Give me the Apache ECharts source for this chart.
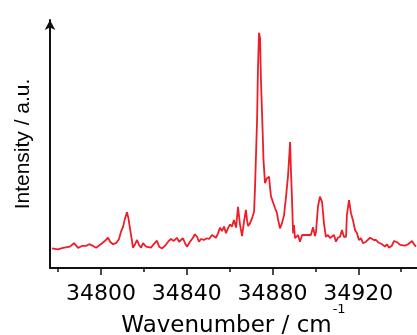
<!DOCTYPE html>
<html>
<head>
<meta charset="utf-8">
<script src="https://cdn.jsdelivr.net/npm/echarts@6/dist/echarts.min.js"></script>
<style>
  html, body { margin: 0; padding: 0; background: #fff; }
  #chart { width: 417px; height: 335px; }
</style>
</head>
<body>
<div id="chart"></div>
<script>
// Spectrum trace (wavenumber in cm-1, intensity in a.u.)
const wavenumber = [
  34777.1, 34779.9, 34782.3, 34785.5, 34787.4, 34789.3, 34791.1, 34793.0, 34794.4, 34796.3,
  34797.7, 34800.5, 34801.9, 34803.3, 34804.2, 34805.6, 34807.0, 34808.4, 34809.3, 34810.3,
  34811.2, 34812.1, 34812.8, 34813.5, 34814.5, 34814.9, 34815.9, 34816.8, 34817.7, 34818.7,
  34819.6, 34821.0, 34821.9, 34823.3, 34824.3, 34825.2, 34826.1, 34827.1, 34828.5, 34829.9,
  34831.3, 34832.6, 34834.0, 34835.4, 34836.4, 34837.3, 34838.2, 34839.2, 34840.1, 34841.5,
  34842.9, 34843.8, 34844.8, 34845.7, 34846.6, 34848.0, 34849.4, 34850.4, 34851.8, 34852.7,
  34853.6, 34854.6, 34855.5, 34856.4, 34857.4, 34858.3, 34859.2, 34860.2, 34861.1, 34862.0,
  34863.0, 34863.9, 34864.8, 34865.8, 34866.7, 34867.6, 34868.1, 34868.6, 34869.5, 34870.4,
  34871.4, 34871.8, 34872.8, 34873.2, 34873.7, 34874.2, 34874.6, 34875.3, 34875.8, 34876.5,
  34877.4, 34878.4, 34878.8, 34879.3, 34880.2, 34881.2, 34882.1, 34882.6, 34883.5, 34884.4,
  34885.4, 34886.3, 34887.2, 34887.7, 34888.2, 34888.6, 34889.1, 34889.6, 34890.0, 34890.5,
  34891.4, 34891.9, 34892.8, 34893.8, 34894.7, 34896.1, 34897.0, 34897.9, 34898.9, 34899.8,
  34900.3, 34901.2, 34902.1, 34903.1, 34904.0, 34904.9, 34905.9, 34906.8, 34907.7, 34908.7,
  34909.6, 34910.5, 34911.5, 34912.4, 34913.3, 34914.3, 34914.7, 34915.7, 34916.6, 34917.5,
  34918.5, 34919.4, 34920.3, 34921.3, 34922.2, 34923.6, 34924.5, 34925.5, 34926.4, 34927.3,
  34928.3, 34929.2, 34930.1, 34931.1, 34932.5, 34933.4, 34934.3, 34935.7, 34936.7, 34938.1,
  34939.5, 34940.4, 34941.8, 34943.2, 34944.1, 34945.1, 34946.0, 34946.9
]
const intensity = [
  7.9, 7.5, 8.1, 8.6, 10.0, 8.1, 8.9, 8.9, 9.6, 8.9,
  8.2, 10.0, 11.0, 12.2, 10.6, 9.6, 10.0, 11.7, 14.6, 16.7,
  20.0, 22.5, 20.0, 16.0, 10.6, 8.2, 9.6, 11.3, 9.3, 8.2,
  10.0, 8.6, 9.3, 8.2, 9.3, 8.6, 11.0, 8.6, 7.9, 9.0,
  10.6, 11.7, 10.9, 12.2, 10.6, 11.0, 12.0, 10.0, 8.6, 10.6,
  12.2, 13.6, 12.6, 10.6, 11.7, 11.3, 12.0, 11.7, 13.3, 14.0,
  12.2, 14.0, 16.3, 14.9, 16.7, 14.0, 16.0, 17.6, 16.7, 19.4,
  16.3, 24.7, 17.7, 12.9, 18.7, 23.4, 19.4, 16.9, 18.0, 20.0,
  22.7, 31.5, 59.7, 79.8, 94.8, 92.7, 75.8, 57.7, 43.5, 34.2,
  36.2, 36.8, 32.8, 28.8, 28.8, 24.1, 22.1, 19.4, 16.0, 18.0,
  21.4, 28.8, 36.8, 43.5, 50.8, 39.5, 27.4, 14.0, 17.3, 12.0,
  11.3, 13.3, 10.6, 13.3, 12.9, 13.3, 12.9, 13.3, 16.4, 12.9,
  14.6, 24.7, 28.8, 26.7, 18.0, 12.6, 13.3, 12.1, 11.3, 13.3,
  10.6, 12.2, 12.6, 15.3, 12.6, 12.6, 21.4, 27.4, 22.1, 19.4,
  15.3, 14.0, 11.3, 12.0, 10.0, 10.6, 10.4, 12.2, 11.7, 11.3,
  11.3, 10.4, 10.6, 9.6, 8.6, 9.6, 8.2, 9.0, 10.9, 10.4,
  9.3, 9.0, 9.0, 9.6, 10.0, 10.9, 9.6, 8.6
]

// x axis: labelled major ticks and unlabelled minor ticks
const majorTicks = [34800, 34840, 34880, 34920]
const minorTicks = [34780, 34820, 34860, 34900, 34940]
const xMin = 34776.2
const xMax = 34947.4

const chart = echarts.init(document.getElementById('chart'), null, { renderer: 'canvas' })

const axisColor = '#111'
const xFont = '"DejaVu Sans", sans-serif'

const option = {
  animation: false,
  backgroundColor: '#fff',
  // fixed plot box; don't let the axis texts push it around
  grid: { left: 50, right: 0, top: 20, bottom: 67, containLabel: false, outerBoundsMode: 'none' },
  xAxis: [
    {
      type: 'value', min: xMin, max: xMax,
      name: '{a|Wavenumber / cm}{sup|-1}',
      nameLocation: 'middle', nameGap: 35, nameMoveOverlap: false,
      nameTextStyle: {
        rich: {
          a: { fontSize: 23, fontFamily: xFont, color: '#000' },
          sup: { fontSize: 13, fontFamily: xFont, color: '#000', padding: [0, 0, 33, 1] },
        },
      },
      axisLine: { show: true, lineStyle: { color: axisColor, width: 2 } },
      axisTick: { show: true, inside: false, length: 7, customValues: majorTicks, lineStyle: { color: axisColor, width: 1.5 } },
      axisLabel: {
        show: true, customValues: majorTicks, margin: 15,
        fontSize: 22, fontFamily: xFont, color: '#000',
        formatter: (v) => String(v),
      },
      splitLine: { show: false },
    },
    {
      type: 'value', min: xMin, max: xMax, position: 'bottom',
      axisLine: { show: false },
      axisTick: { show: true, inside: false, length: 4, customValues: minorTicks, lineStyle: { color: axisColor, width: 1.5 } },
      axisLabel: { show: false },
      splitLine: { show: false },
    },
  ],
  yAxis: {
    type: 'value', min: 0, max: 100,
    name: 'Intensity / a.u.',
    nameLocation: 'middle', nameGap: 16, nameRotate: 90, nameMoveOverlap: false,
    nameTextStyle: { fontSize: 21, fontFamily: 'Liberation Sans, Arial, sans-serif', color: '#000' },
    axisLine: {
      show: true, symbol: ['none', 'arrow'], symbolSize: [8, 10],
      lineStyle: { color: axisColor, width: 2 },
    },
    axisTick: { show: false },
    axisLabel: { show: false },
    splitLine: { show: false },
  },
  series: [{
    type: 'line',
    xAxisIndex: 0,
    data: wavenumber.map((w, i) => [w, intensity[i]]),
    symbol: 'none',
    lineStyle: { color: '#ee1d27', width: 1.8 },
    clip: true,
  }],
}

chart.setOption(option)
</script>
</body>
</html>
